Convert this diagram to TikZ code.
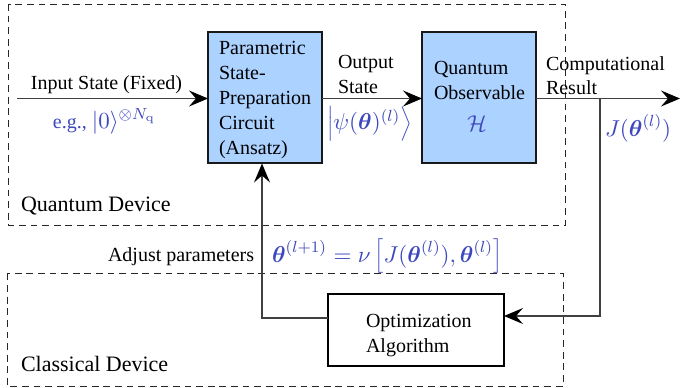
\documentclass[tikz,border=0pt]{standalone}
\usepackage{fix-cm}
\usepackage{amsmath}
\usepackage[no-math]{fontspec}
\setmainfont{Liberation Serif}
\usetikzlibrary{arrows.meta}
\definecolor{bluebox}{RGB}{172,210,255}
\definecolor{bluetxt}{RGB}{62,72,190}
\newcommand{\mathsz}{\fontsize{11.5}{14}\selectfont}
\newcommand{\sizeddelim}[1]{\vcenter{\hbox{\scalebox{0.8}{\mathsz$\Big#1$}}}}
\tikzset{
  x=0.5pt,y=-0.5pt,
  region/.style={draw=black!85,line width=0.45pt,dash pattern=on 3.4pt off 2.4pt},
  qbox/.style={draw=black!90,line width=0.65pt,fill=bluebox,minimum width=57pt,minimum height=65.5pt,inner sep=0pt,outer sep=0pt},
  cbox/.style={draw=black,line width=0.65pt,fill=white,minimum width=88pt,minimum height=36pt,inner sep=0pt,outer sep=0pt},
  lbl/.style={anchor=base west,inner sep=0pt,outer sep=0pt,font=\fontsize{10}{12.5}\selectfont},
  devlbl/.style={lbl,font=\fontsize{11}{13}\selectfont},
  mth/.style={lbl,text=bluetxt},
  conn/.style={draw=black!75,line width=0.6pt},
  arr/.style={conn,-{Stealth[length=9.5pt,width=8pt,inset=3.5pt,color=black]}}
}
\begin{document}
\begin{tikzpicture}
\useasboundingbox (0,0) rectangle (680,387);
\fill[white] (0,0) rectangle (680,387);
% regions
\draw[region] (8,4) rectangle (565.5,225);
\draw[region] (7,273.5) rectangle (563,386);
% boxes
\node[qbox] (circ) at (265,97.5) {};
\node[qbox] (obs) at (479,97.5) {};
\node[cbox] (opt) at (416,330) {};
\coordinate (in) at (17,98.5);
\coordinate (out) at (680,98.5);
\coordinate (tap) at (600,98.5);
% connectors
\draw[arr] (in) -- (circ.west |- in);
\draw[arr] (circ.east |- in) -- (obs.west |- in);
\draw[arr] (obs.east |- out) -- (out);
\draw[arr] (tap) -- (tap |- 0,316) -- (opt.east |- 0,316);
\draw[arr] (opt.west |- 0,318) -- (262,318) -- (262,163.5);
% box texts
\node[lbl] (t1) at (219,54) {Parametric};
\node[lbl] (t2) at (219,79) {State-};
\node[lbl] (t3) at (219,104) {Preparation};
\node[lbl] (t4) at (219,129) {Circuit};
\node[lbl] (t5) at (219,154) {(Ansatz)};
\node[lbl] (q1) at (434,74) {Quantum};
\node[lbl] (q2) at (434,99) {Observable};
\node[mth,anchor=base] (q3) at (477,131) {\mathsz$\mathcal{H}$};
\node[lbl] (o1) at (366,327) {Optimization};
\node[lbl] (o2) at (366,352) {Algorithm};
% labels
\node[lbl] (l1) at (31,89) {Input State (Fixed)};
\node[mth] (l2) at (53,128) {e.g., \mathsz$|0\rangle^{\otimes N_{\mathrm{q}}}$};
\node[lbl] (l3) at (338,68) {Output};
\node[lbl] (l4) at (338,93) {State};
\node[mth] (l5) at (327,129.5) {\mathsz$\sizeddelim{|}\psi(\boldsymbol{\theta})^{(l)}\sizeddelim{\rangle}$};
\node[lbl] (l6) at (546,70) {Computational};
\node[lbl] (l7) at (546,94) {Result};
\node[mth] (l8) at (605,136) {\mathsz$J(\boldsymbol{\theta}^{(l)})$};
\node[devlbl] (l9) at (21,211) {Quantum Device};
\node[lbl] (l10) at (108,261) {Adjust parameters};
\node[mth] (l11) at (272,262) {\mathsz$\boldsymbol{\theta}^{(l+1)}=\nu\,\sizeddelim{[}J(\boldsymbol{\theta}^{(l)}),\boldsymbol{\theta}^{(l)}\sizeddelim{]}$};
\node[devlbl] (l12) at (21,371) {Classical Device};
\end{tikzpicture}
\end{document}
